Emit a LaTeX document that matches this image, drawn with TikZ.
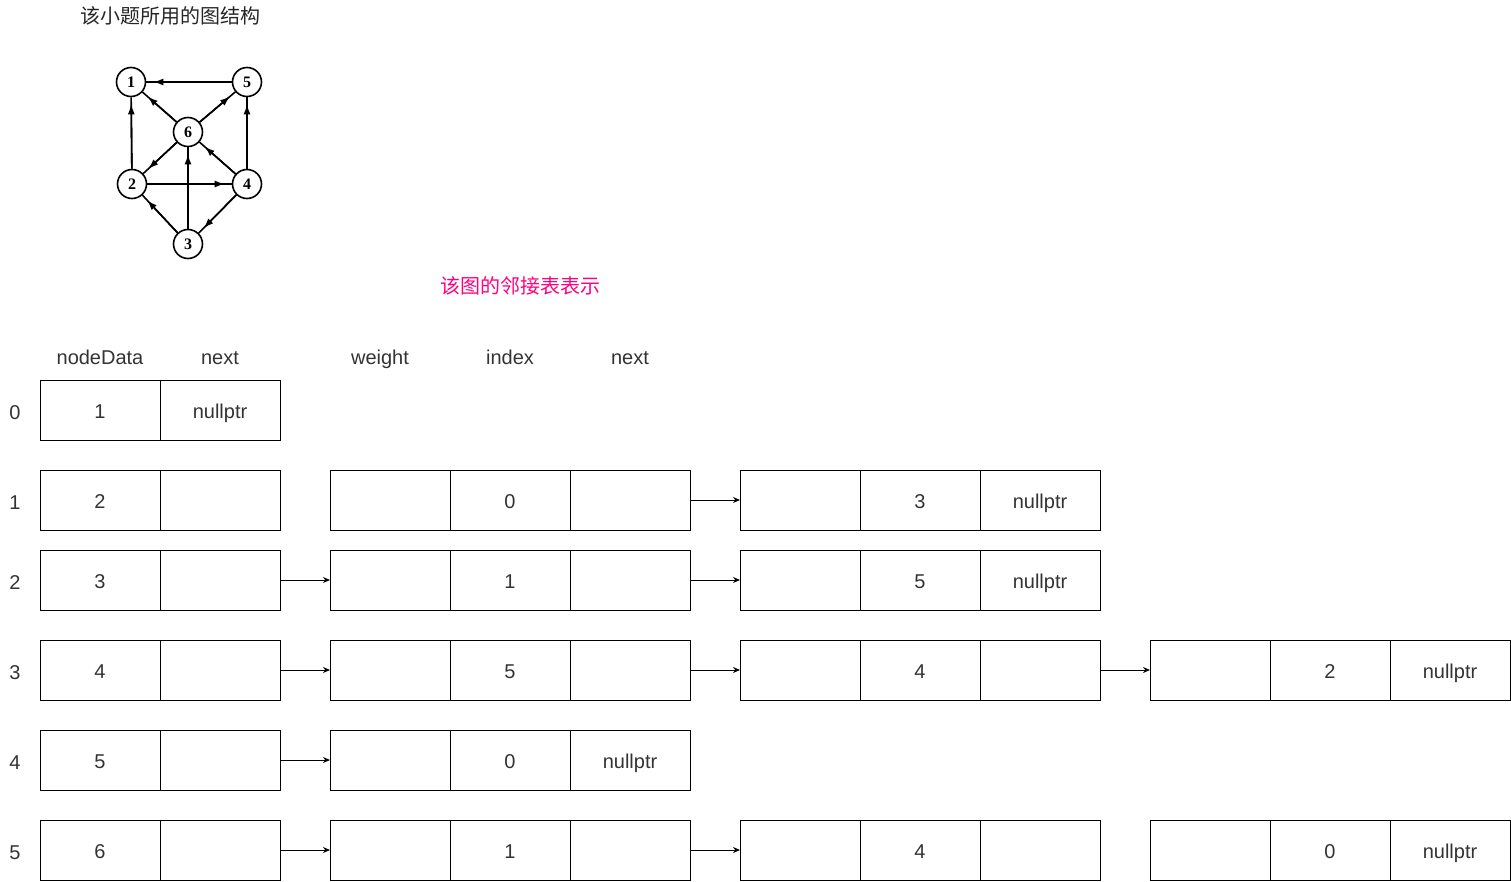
\documentclass[tikz,border=0pt]{standalone}
\usepackage{fontspec}
\setmainfont{Liberation Sans}
\newfontfamily\cjk{Noto Sans CJK SC}
\newfontfamily\gserif{Liberation Serif}
\usetikzlibrary{arrows.meta}
\definecolor{txt}{HTML}{333333}
\definecolor{pinktxt}{HTML}{FF0080}
\begin{document}
\begin{tikzpicture}[x=1pt,y=-1pt,
  cell/.style={draw=black,line width=1pt,minimum width=120pt,minimum height=60pt,inner sep=0pt,outer sep=0pt,text=txt,font=\fontsize{20}{24}\selectfont,text height=16pt,text depth=0pt},
  lbl/.style={text=txt,font=\fontsize{20}{24}\selectfont,inner sep=0pt,text height=16pt,text depth=0pt},
  ptr/.style={line width=1pt,-{Stealth[length=7pt,width=6pt]}},
  gnode/.style={circle,draw=black,line width=1.6pt,minimum size=29pt,inner sep=0pt,font=\gserif\bfseries\fontsize{16}{17}\selectfont},
  gline/.style={line width=1.6pt},
  gtip/.style={line width=1.6pt,-{Latex[length=10pt,width=7pt]},shorten >=7pt}]
\useasboundingbox (0,0) rectangle (1511,881);
% titles
\node[inner sep=0pt,text=black!85,font=\cjk\fontsize{20}{24}\selectfont] (title1) at (170,16) {该小题所用的图结构};
\node[inner sep=0pt,text=pinktxt,font=\cjk\fontsize{20}{24}\selectfont] (title2) at (520,286) {该图的邻接表表示};
% graph
\node[gnode] (g1) at (131,82) {1};
\node[gnode] (g5) at (247,82) {5};
\node[gnode] (g6) at (188,132) {6};
\node[gnode] (g2) at (132,184) {2};
\node[gnode] (g4) at (247,184) {4};
\node[gnode] (g3) at (188,244) {3};
\foreach \a/\b in {g5/g1,g6/g1,g6/g5,g2/g1,g4/g5,g6/g2,g4/g6,g3/g6,g2/g4,g3/g2,g4/g3}{
  \draw[gline] (\a) -- (\b);
  \draw[gtip] (\a) -- (\b);
}
% headers
\node[lbl] (hd1) at (100,356) {nodeData};
\node[lbl] (hd2) at (220,356) {next};
\node[lbl] (hd3) at (380,356) {weight};
\node[lbl] (hd4) at (510,356) {index};
\node[lbl] (hd5) at (630,356) {next};
% row indices
\node[lbl] (i0) at (15,411) {0};
\node[lbl] (i1) at (15,501) {1};
\node[lbl] (i2) at (15,581) {2};
\node[lbl] (i3) at (15,671) {3};
\node[lbl] (i4) at (15,761) {4};
\node[lbl] (i5) at (15,851) {5};
% row 0
\node[cell] (h0a) at (100,410) {1};
\node[cell] (h0b) at (220,410) {nullptr};
% row 1
\node[cell] (h1a) at (100,500) {2};
\node[cell] (h1b) at (220,500) {};
\node[cell] (n1a) at (390,500) {};
\node[cell] (n1b) at (510,500) {0};
\node[cell] (n1c) at (630,500) {};
\node[cell] (m1a) at (800,500) {};
\node[cell] (m1b) at (920,500) {3};
\node[cell] (m1c) at (1040,500) {nullptr};
% row 2
\node[cell] (h2a) at (100,580) {3};
\node[cell] (h2b) at (220,580) {};
\node[cell] (n2a) at (390,580) {};
\node[cell] (n2b) at (510,580) {1};
\node[cell] (n2c) at (630,580) {};
\node[cell] (m2a) at (800,580) {};
\node[cell] (m2b) at (920,580) {5};
\node[cell] (m2c) at (1040,580) {nullptr};
% row 3
\node[cell] (h3a) at (100,670) {4};
\node[cell] (h3b) at (220,670) {};
\node[cell] (n3a) at (390,670) {};
\node[cell] (n3b) at (510,670) {5};
\node[cell] (n3c) at (630,670) {};
\node[cell] (m3a) at (800,670) {};
\node[cell] (m3b) at (920,670) {4};
\node[cell] (m3c) at (1040,670) {};
\node[cell] (p3a) at (1210,670) {};
\node[cell] (p3b) at (1330,670) {2};
\node[cell] (p3c) at (1450,670) {nullptr};
% row 4
\node[cell] (h4a) at (100,760) {5};
\node[cell] (h4b) at (220,760) {};
\node[cell] (n4a) at (390,760) {};
\node[cell] (n4b) at (510,760) {0};
\node[cell] (n4c) at (630,760) {nullptr};
% row 5
\node[cell] (h5a) at (100,850) {6};
\node[cell] (h5b) at (220,850) {};
\node[cell] (n5a) at (390,850) {};
\node[cell] (n5b) at (510,850) {1};
\node[cell] (n5c) at (630,850) {};
\node[cell] (m5a) at (800,850) {};
\node[cell] (m5b) at (920,850) {4};
\node[cell] (m5c) at (1040,850) {};
\node[cell] (p5a) at (1210,850) {};
\node[cell] (p5b) at (1330,850) {0};
\node[cell] (p5c) at (1450,850) {nullptr};
% pointers
\draw[ptr] (n1c.east) -- (m1a.west);
\draw[ptr] (h2b.east) -- (n2a.west);
\draw[ptr] (n2c.east) -- (m2a.west);
\draw[ptr] (h3b.east) -- (n3a.west);
\draw[ptr] (n3c.east) -- (m3a.west);
\draw[ptr] (m3c.east) -- (p3a.west);
\draw[ptr] (h4b.east) -- (n4a.west);
\draw[ptr] (h5b.east) -- (n5a.west);
\draw[ptr] (n5c.east) -- (m5a.west);
\end{tikzpicture}
\end{document}
